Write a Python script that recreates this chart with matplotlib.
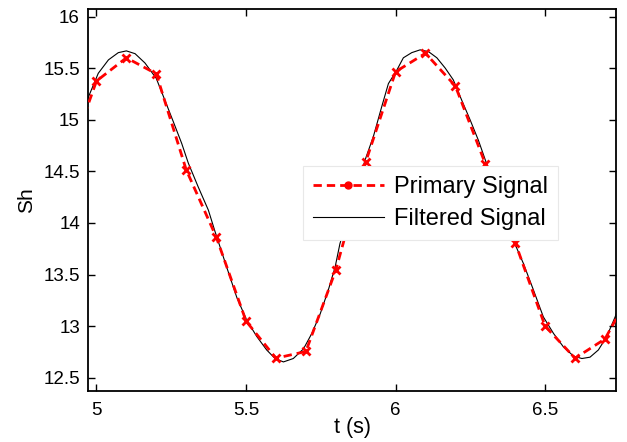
import numpy as np
import matplotlib
matplotlib.use("Agg")
import matplotlib.pyplot as plt
from matplotlib.lines import Line2D
from matplotlib.ticker import FormatStrFormatter

plt.rcParams['font.family'] = ['Liberation Sans', 'DejaVu Sans']

# primary signal, sampled every 0.1 s
t_primary = [4.9, 5.0, 5.1, 5.2, 5.3, 5.4, 5.5, 5.6, 5.7, 5.8, 5.9,
             6.0, 6.1, 6.2, 6.3, 6.4, 6.5, 6.6, 6.7, 6.8]
sh_primary = [14.56, 15.375, 15.60, 15.445, 14.515, 13.867, 13.05, 12.69, 12.755, 13.543, 14.59,
              15.465, 15.644, 15.326, 14.574, 13.81, 13.0, 12.69, 12.876, 13.40]

# filtered signal
t_filtered = [4.96, 4.973, 5.006, 5.04, 5.073, 5.10, 5.129, 5.162, 5.20, 5.23,
              5.257, 5.285, 5.307, 5.34, 5.374, 5.396, 5.435, 5.469, 5.502, 5.536,
              5.569, 5.597, 5.625, 5.658, 5.692, 5.72, 5.748, 5.775, 5.798, 5.814,
              5.84, 5.87, 5.898, 5.926, 5.954, 5.976, 6.004, 6.026, 6.054, 6.082,
              6.11, 6.138, 6.166, 6.193, 6.221, 6.249, 6.277, 6.30, 6.33, 6.36,
              6.394, 6.427, 6.461, 6.494, 6.528, 6.561, 6.595, 6.623, 6.65, 6.678,
              6.706, 6.734, 6.75]
sh_filtered = [15.10, 15.22, 15.45, 15.58, 15.65, 15.667, 15.64, 15.55, 15.40, 15.18,
               14.98, 14.77, 14.58, 14.35, 14.125, 13.92, 13.575, 13.28, 13.06, 12.90,
               12.77, 12.687, 12.654, 12.687, 12.78, 12.93, 13.12, 13.35, 13.575, 13.80,
               14.05, 14.33, 14.61, 14.84, 15.13, 15.35, 15.48, 15.60, 15.65, 15.677,
               15.66, 15.60, 15.50, 15.386, 15.19, 15.0, 14.80, 14.61, 14.35, 14.08,
               13.83, 13.61, 13.35, 13.09, 12.93, 12.80, 12.71, 12.687, 12.70, 12.77,
               12.90, 13.09, 13.22]

xticks = [5, 5.5, 6, 6.5]
yticks = [12.5, 13, 13.5, 14, 14.5, 15, 15.5, 16]

fig = plt.figure(figsize=(6.27, 4.42), dpi=100)
ax = fig.add_axes([0.1408, 0.116, 0.8417, 0.863])

ax.plot(t_filtered, sh_filtered, color='black', lw=0.8, zorder=2)
ax.plot(t_primary, sh_primary, color='red', lw=2, dashes=(3, 1.8),
        marker='x', ms=6, mew=2, zorder=3)

ax.set_xlim(4.9726, 6.737)
ax.set_ylim(12.375, 16.07)
ax.set_xticks(xticks)
ax.set_yticks(yticks)
ax.xaxis.set_major_formatter(FormatStrFormatter('%g'))
ax.yaxis.set_major_formatter(FormatStrFormatter('%g'))
ax.tick_params(direction='in', top=True, right=True, length=5, width=1,
               labelsize=13.5)
ax.tick_params(axis='x', pad=8)
ax.tick_params(axis='y', pad=6)
for s in ax.spines.values():
    s.set_linewidth(1.3)

ax.set_xlabel('t (s)', fontsize=15.5, labelpad=-1)
ax.set_ylabel('Sh', fontsize=15, labelpad=5)

handles = [Line2D([], [], color='red', lw=2, dashes=(3, 1.8), marker='o', ms=5),
           Line2D([], [], color='black', lw=0.8)]
leg = ax.legend(handles, ['Primary Signal', 'Filtered Signal'],
                loc='upper left', bbox_to_anchor=(0.407, 0.589), borderaxespad=0,
                fontsize=17, handlelength=3.0, handletextpad=0.45,
                labelspacing=0.42, borderpad=0.42, fancybox=False,
                framealpha=1, edgecolor='#e8e8e8')
leg.get_frame().set_linewidth(0.8)
leg.set_zorder(5)

fig.savefig('out.png', dpi=100)
